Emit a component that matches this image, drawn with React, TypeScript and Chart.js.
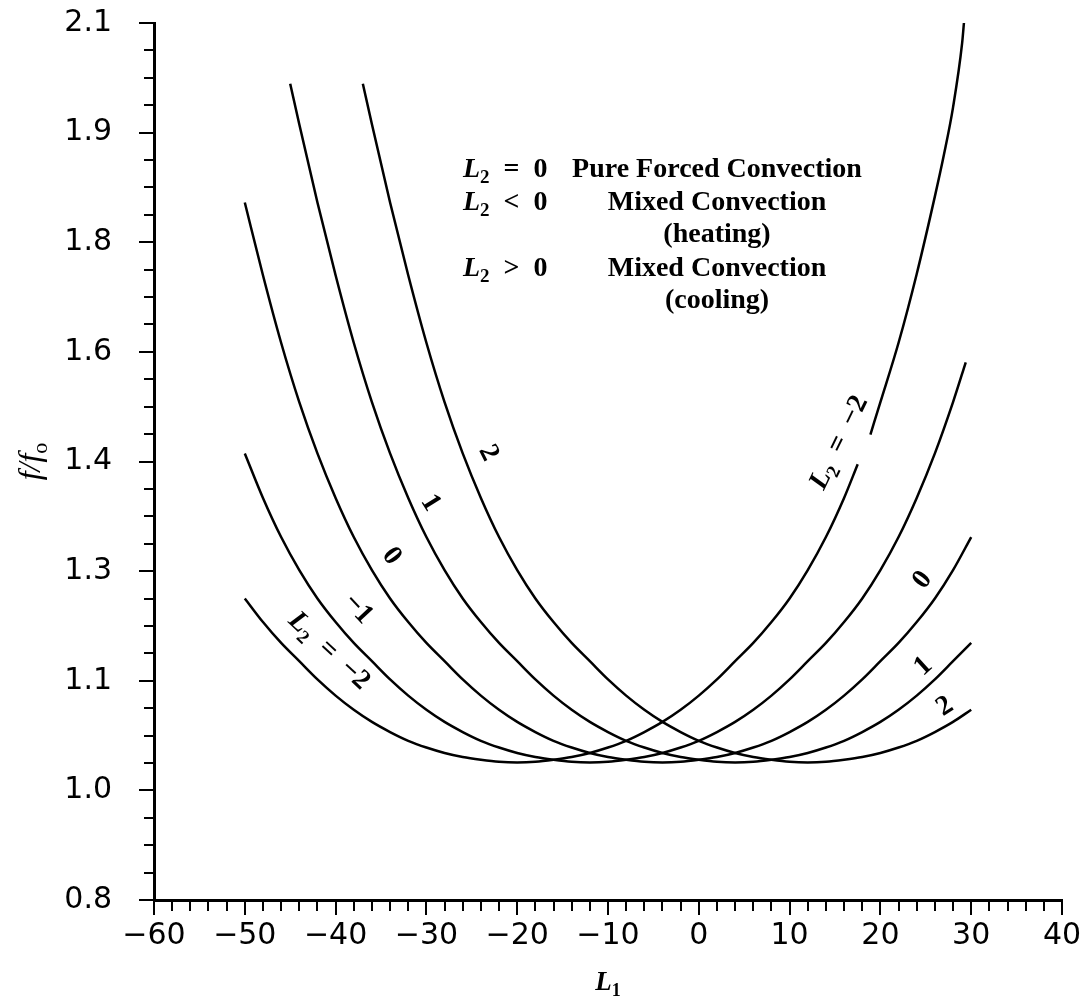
import React, { useEffect, useRef } from 'react';
import { Chart, registerables } from 'chart.js';

Chart.register(...registerables);

// ---------- data ----------
const L2_VALUES = [-2, -1, 0, 1, 2];

const L1_M2 = [-50, -48, -46, -44, -42, -40, -38, -36, -34, -32, -30, -28, -26, -24, -22, -20, -18, -16, -14, -12, -10, -8, -6, -4, -2, 0, 2, 4, 6, 8, 10, 12, 14, 16, 17.5, 18.2, 18.9, 20, 22, 24, 26, 27, 28, 29, 29.2];
const F_M2 = [1.247, 1.212, 1.181, 1.154, 1.127, 1.103, 1.082, 1.064, 1.049, 1.036, 1.026, 1.018, 1.012, 1.008, 1.005, 1.004, 1.005, 1.008, 1.012, 1.018, 1.026, 1.036, 1.049, 1.064, 1.082, 1.103, 1.127, 1.154, 1.181, 1.212, 1.247, 1.289, 1.338, 1.396, 1.446, null, 1.49, 1.538, 1.626, 1.728, 1.843, 1.905, 1.975, 2.07, 2.1];

const L1_M1 = [-50, -48, -46, -44, -42, -40, -38, -36, -34, -32, -30, -28, -26, -24, -22, -20, -18, -16, -14, -12, -10, -8, -6, -4, -2, 0, 2, 4, 6, 8, 10, 12, 14, 16, 18, 20, 22, 24, 26, 28, 29.4];
const F_M1 = [1.462, 1.396, 1.338, 1.289, 1.247, 1.212, 1.181, 1.154, 1.127, 1.103, 1.082, 1.064, 1.049, 1.036, 1.026, 1.018, 1.012, 1.008, 1.005, 1.004, 1.005, 1.008, 1.012, 1.018, 1.026, 1.036, 1.049, 1.064, 1.082, 1.103, 1.127, 1.154, 1.181, 1.212, 1.247, 1.289, 1.338, 1.396, 1.462, 1.538, 1.597];

const L1_Z = [-50, -48, -46, -44, -42, -40, -38, -36, -34, -32, -30, -28, -26, -24, -22, -20, -18, -16, -14, -12, -10, -8, -6, -4, -2, 0, 2, 4, 6, 8, 10, 12, 14, 16, 18, 20, 22, 24, 26, 28, 30];
const F_Z = [1.834, 1.726, 1.626, 1.538, 1.462, 1.396, 1.338, 1.289, 1.247, 1.212, 1.181, 1.154, 1.127, 1.103, 1.082, 1.064, 1.049, 1.036, 1.026, 1.018, 1.012, 1.008, 1.005, 1.004, 1.005, 1.008, 1.012, 1.018, 1.026, 1.036, 1.049, 1.064, 1.082, 1.103, 1.127, 1.154, 1.181, 1.212, 1.247, 1.289, 1.338];

const L1_P1 = [-45, -44, -42, -40, -38, -36, -34, -32, -30, -28, -26, -24, -22, -20, -18, -16, -14, -12, -10, -8, -6, -4, -2, 0, 2, 4, 6, 8, 10, 12, 14, 16, 18, 20, 22, 24, 26, 28, 30];
const F_P1 = [2.01, 1.95, 1.834, 1.726, 1.626, 1.538, 1.462, 1.396, 1.338, 1.289, 1.247, 1.212, 1.181, 1.154, 1.127, 1.103, 1.082, 1.064, 1.049, 1.036, 1.026, 1.018, 1.012, 1.008, 1.005, 1.004, 1.005, 1.008, 1.012, 1.018, 1.026, 1.036, 1.049, 1.064, 1.082, 1.103, 1.127, 1.154, 1.181];

const L1_P2 = [-37, -36, -34, -32, -30, -28, -26, -24, -22, -20, -18, -16, -14, -12, -10, -8, -6, -4, -2, 0, 2, 4, 6, 8, 10, 12, 14, 16, 18, 20, 22, 24, 26, 28, 30];
const F_P2 = [2.01, 1.95, 1.834, 1.726, 1.626, 1.538, 1.462, 1.396, 1.338, 1.289, 1.247, 1.212, 1.181, 1.154, 1.127, 1.103, 1.082, 1.064, 1.049, 1.036, 1.026, 1.018, 1.012, 1.008, 1.005, 1.004, 1.005, 1.008, 1.012, 1.018, 1.026, 1.036, 1.049, 1.064, 1.082];

const SERIES_X = [L1_M2, L1_M1, L1_Z, L1_P1, L1_P2];
const SERIES_Y = [F_M2, F_M1, F_Z, F_P1, F_P2];

const X_TICKS = [-60, -50, -40, -30, -20, -10, 0, 10, 20, 30, 40];
const Y_TICKS = [0.8, 0.9625, 1.125, 1.2875, 1.45, 1.6125, 1.775, 1.9375, 2.1];
const Y_TICK_LABELS = ['0.8', '1.0', '1.1', '1.3', '1.4', '1.6', '1.8', '1.9', '2.1'];

const MINUS = '\u2212';
const ENSP = '\u2002';

type Seg = [string, 'i' | 'r' | 's'];

const LEGEND_ROWS: { math: Seg[] | null; text: string }[] = [
  { math: [['L', 'i'], ['2', 's'], [ENSP + '=' + ENSP + '0', 'r']], text: 'Pure Forced Convection' },
  { math: [['L', 'i'], ['2', 's'], [ENSP + '<' + ENSP + '0', 'r']], text: 'Mixed Convection' },
  { math: null, text: '(heating)' },
  { math: [['L', 'i'], ['2', 's'], [ENSP + '>' + ENSP + '0', 'r']], text: 'Mixed Convection' },
  { math: null, text: '(cooling)' },
];

const CURVE_LABELS: { segs: Seg[]; x: number; y: number; angle: number }[] = [
  { segs: [['L', 'i'], ['2', 's'], [ENSP + '=' + ENSP + MINUS + '2', 'r']], x: -40.6, y: 1.171, angle: 43 },
  { segs: [[MINUS + '1', 'r']], x: -37.4, y: 1.233, angle: 47 },
  { segs: [['0', 'r']], x: -33.7, y: 1.311, angle: 53 },
  { segs: [['1', 'r']], x: -29.4, y: 1.39, angle: 58 },
  { segs: [['2', 'r']], x: -23.0, y: 1.464, angle: 63 },
  { segs: [['L', 'i'], ['2', 's'], [ENSP + '=' + ENSP + MINUS + '2', 'r']], x: 15.3, y: 1.479, angle: -64 },
  { segs: [['0', 'r']], x: 24.5, y: 1.276, angle: -52 },
  { segs: [['1', 'r']], x: 24.6, y: 1.148, angle: -42 },
  { segs: [['2', 'r']], x: 27.0, y: 1.089, angle: -33 },
];

// ---------- drawing helpers ----------
const SERIF = '"Liberation Serif", "DejaVu Serif", serif';
const SANS = '"DejaVu Sans", sans-serif';

function segFont(kind: string, size: number, bold: boolean) {
  const sz = kind === 's' ? Math.round(size * 0.68) : size;
  return `${kind === 'i' ? 'italic ' : ''}${bold ? 'bold ' : ''}${sz}px ${SERIF}`;
}

function richWidth(ctx: CanvasRenderingContext2D, segs: Seg[], size: number, bold: boolean) {
  let w = 0;
  for (const [t, k] of segs) {
    ctx.font = segFont(k, size, bold);
    w += ctx.measureText(t).width;
  }
  return w;
}

function drawRich(ctx: CanvasRenderingContext2D, segs: Seg[], size: number, bold: boolean, x: number, y: number, align: 'left' | 'center') {
  const w = richWidth(ctx, segs, size, bold);
  let cx = align === 'center' ? x - w / 2 : x;
  ctx.textAlign = 'left';
  ctx.textBaseline = 'alphabetic';
  for (const [t, k] of segs) {
    ctx.font = segFont(k, size, bold);
    ctx.fillText(t, cx, k === 's' ? y + size * 0.22 : y);
    cx += ctx.measureText(t).width;
  }
}

const decorPlugin = {
  id: 'decor',
  afterDraw(chart: any) {
    const ctx: CanvasRenderingContext2D = chart.ctx;
    const xs = chart.scales.x;
    const ys = chart.scales.y;
    const area = chart.chartArea;
    ctx.save();
    ctx.strokeStyle = '#000';
    ctx.fillStyle = '#000';
    ctx.lineWidth = 2;
    // minor ticks x
    for (let i = 0; i < X_TICKS.length - 1; i++) {
      const step = (X_TICKS[i + 1] - X_TICKS[i]) / 5;
      for (let j = 1; j < 5; j++) {
        const px = Math.round(xs.getPixelForValue(X_TICKS[i] + j * step));
        ctx.beginPath();
        ctx.moveTo(px, area.bottom);
        ctx.lineTo(px, area.bottom + 11);
        ctx.stroke();
      }
    }
    // minor ticks y
    for (let i = 0; i < Y_TICKS.length - 1; i++) {
      const step = (Y_TICKS[i + 1] - Y_TICKS[i]) / 4;
      for (let j = 1; j < 4; j++) {
        const py = Math.round(ys.getPixelForValue(Y_TICKS[i] + j * step));
        ctx.beginPath();
        ctx.moveTo(area.left, py);
        ctx.lineTo(area.left - 10, py);
        ctx.stroke();
      }
    }
    // axis titles
    drawRich(ctx, [['L', 'i'], ['1', 's']], 27, true, (area.left + area.right) / 2, 990, 'center');
    ctx.save();
    ctx.translate(30, (area.top + area.bottom) / 2);
    ctx.rotate(-Math.PI / 2);
    drawRich(ctx, [['f/f', 'i'], ['o', 's']], 32, false, 0, 10, 'center');
    ctx.restore();

    // legend text block
    const baselines = [177, 210, 242, 276, 308];
    LEGEND_ROWS.forEach((row, i) => {
      if (row.math) drawRich(ctx, row.math, 28, true, 463, baselines[i], 'left');
      ctx.font = `bold 28px ${SERIF}`;
      ctx.textAlign = 'center';
      ctx.textBaseline = 'alphabetic';
      ctx.fillText(row.text, 717, baselines[i]);
    });

    // curve labels
    CURVE_LABELS.forEach((lab) => {
      const px = xs.getPixelForValue(lab.x);
      const py = ys.getPixelForValue(lab.y);
      ctx.save();
      ctx.translate(px, py);
      ctx.rotate((lab.angle * Math.PI) / 180);
      drawRich(ctx, lab.segs, 28, true, 0, 9, 'center');
      ctx.restore();
    });
    ctx.restore();
  },
};

export default function App() {
  const ref = useRef<HTMLCanvasElement>(null);
  useEffect(() => {
    if (!ref.current) return;
    const datasets = SERIES_X.map((xsArr, k) => ({
      label: `L2 = ${L2_VALUES[k]}`,
      data: xsArr.map((x, i) => ({ x, y: SERIES_Y[k][i] })),
      borderColor: '#000',
      backgroundColor: '#000',
      borderWidth: 2.5,
      pointRadius: 0,
      fill: false,
      cubicInterpolationMode: 'monotone' as const,
      spanGaps: false,
    }));
    const axisGrid = {
      display: true,
      drawOnChartArea: false,
      drawTicks: true,
      tickLength: 15,
      color: '#000',
      lineWidth: 2,
    };
    const chart = new Chart(ref.current, {
      type: 'line',
      data: { datasets },
      options: {
        animation: false,
        responsive: true,
        maintainAspectRatio: false,
        layout: { padding: { left: 0, right: 29, top: 23, bottom: 0 } },
        plugins: { legend: { display: false }, tooltip: { enabled: false }, title: { display: false } },
        events: [],
        scales: {
          x: {
            type: 'linear',
            min: -60,
            max: 40,
            afterBuildTicks: (s: any) => {
              s.ticks = X_TICKS.map((v) => ({ value: v }));
            },
            ticks: {
              autoSkip: false,
              maxRotation: 0,
              color: '#000',
              padding: 3,
              font: { family: SANS, size: 30 },
              callback: (v: any) => (v < 0 ? MINUS + String(-v) : String(v)),
            },
            grid: axisGrid,
            border: { display: true, color: '#000', width: 3 },
            afterFit: (s: any) => {
              s.height = 96;
              s.paddingLeft = 0;
              s.paddingRight = 0;
              s.paddingTop = 0;
              s.paddingBottom = 0;
            },
          },
          y: {
            type: 'linear',
            min: 0.8,
            max: 2.1,
            afterBuildTicks: (s: any) => {
              s.ticks = Y_TICKS.map((v) => ({ value: v }));
            },
            ticks: {
              autoSkip: false,
              color: '#000',
              padding: 27,
              font: { family: SANS, size: 30 },
              callback: (v: any) => {
                const i = Y_TICKS.findIndex((t) => Math.abs(t - v) < 1e-6);
                return i >= 0 ? Y_TICK_LABELS[i] : '';
              },
            },
            grid: axisGrid,
            border: { display: true, color: '#000', width: 3 },
            afterFit: (s: any) => {
              s.width = 154;
              s.paddingLeft = 0;
              s.paddingRight = 0;
              s.paddingTop = 0;
              s.paddingBottom = 0;
            },
          },
        },
      },
      plugins: [decorPlugin],
    } as any);
    return () => chart.destroy();
  }, []);
  return (
    <div style={{ position: 'absolute', left: 0, top: 0, width: 1091, height: 996, background: '#fff' }}>
      <canvas ref={ref} />
    </div>
  );
}
